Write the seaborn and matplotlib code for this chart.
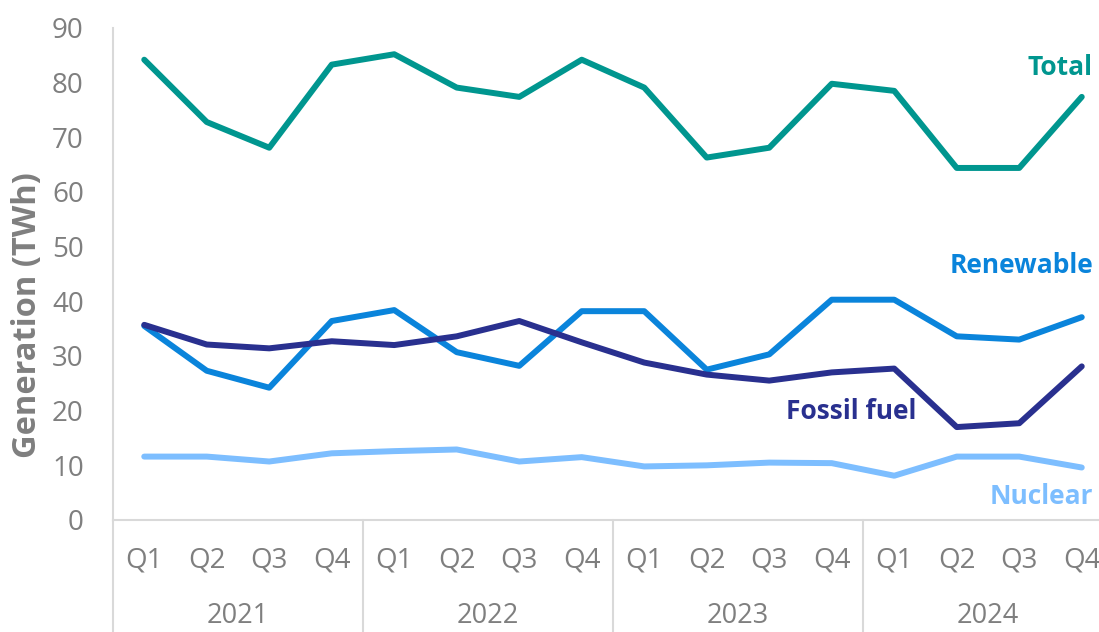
import matplotlib
matplotlib.use("Agg")
import matplotlib.pyplot as plt
import matplotlib.transforms as mtransforms
import seaborn as sns
import pandas as pd

quarters = ["Q1", "Q2", "Q3", "Q4"] * 4
years = ["2021", "2022", "2023", "2024"]
total = [84.2, 72.8, 68.1, 83.3, 85.2, 79.1, 77.4, 84.2, 79.1, 66.3, 68.1, 79.8, 78.5, 64.4, 64.4, 77.4]
renewable = [35.5, 27.3, 24.2, 36.4, 38.4, 30.7, 28.2, 38.2, 38.2, 27.5, 30.3, 40.3, 40.3, 33.6, 33.0, 37.1]
fossil = [35.7, 32.1, 31.4, 32.7, 32.0, 33.6, 36.4, 32.5, 28.8, 26.6, 25.5, 27.0, 27.7, 17.0, 17.7, 28.1]
nuclear = [11.6, 11.6, 10.7, 12.2, 12.6, 12.9, 10.7, 11.5, 9.8, 10.0, 10.5, 10.4, 8.1, 11.6, 11.6, 9.6]

series_names = ["Total", "Renewable", "Fossil fuel", "Nuclear"]
colors = {"Total": "#00968F", "Renewable": "#0A84DB", "Fossil fuel": "#29308F", "Nuclear": "#7DBEFF"}

rows = []
for name, vals in zip(series_names, [total, renewable, fossil, nuclear]):
    for i, v in enumerate(vals):
        rows.append({"idx": i, "value": v, "series": name})
df = pd.DataFrame(rows)

sns.set_theme(style="white")
plt.rcParams["font.family"] = ["Open Sans", "DejaVu Sans"]

fig = plt.figure(figsize=(10.99, 6.32), dpi=100)
ax = fig.add_axes([113 / 1099, (632 - 520) / 632, 1000 / 1099, 492 / 632])

sns.lineplot(data=df, x="idx", y="value", hue="series", palette=colors,
             hue_order=series_names, linewidth=4.3, ax=ax, legend=False)

ax.set_xlim(-0.5, 15.5)
ax.set_ylim(0, 90)
ax.set_yticks(range(0, 91, 10))
ax.set_xticks(range(16))
ax.set_xticklabels(quarters)
ax.tick_params(axis="both", length=0, labelsize=20, labelcolor="#7F7F7F")
ax.tick_params(axis="y", pad=21)
ax.tick_params(axis="x", pad=19)
ax.set_xlabel("")
ax.set_ylabel("Generation (TWh)", fontsize=23.5, fontweight="bold", color="#7F7F7F")
ax.yaxis.set_label_coords(-69 / 1000, 0.416)

for s in ["top", "right"]:
    ax.spines[s].set_visible(False)
for s in ["left", "bottom"]:
    ax.spines[s].set_color("#D9D9D9")
    ax.spines[s].set_linewidth(1.5)

trans = mtransforms.blended_transform_factory(ax.transData, ax.transAxes)
for b in [-0.5, 3.5, 7.5, 11.5, 15.5]:
    ax.plot([b, b], [0, -0.24], transform=trans, color="#D9D9D9", lw=1.5, clip_on=False)
for k, yr in enumerate(years):
    ax.text(4 * k + 1.5, -0.196, yr, transform=trans, ha="center", va="center",
            fontsize=19.5, color="#7F7F7F")

# series labels
ax.text(15.18, 82.7, "Total", color=colors["Total"], fontsize=19, fontweight="bold", ha="right", va="center")
ax.text(15.18, 46.5, "Renewable", color=colors["Renewable"], fontsize=19, fontweight="bold", ha="right", va="center")
ax.text(12.36, 19.9, "Fossil fuel", color=colors["Fossil fuel"], fontsize=19, fontweight="bold", ha="right", va="center")
ax.text(15.18, 4.3, "Nuclear", color=colors["Nuclear"], fontsize=19, fontweight="bold", ha="right", va="center")

fig.savefig("out.png", dpi=100)
